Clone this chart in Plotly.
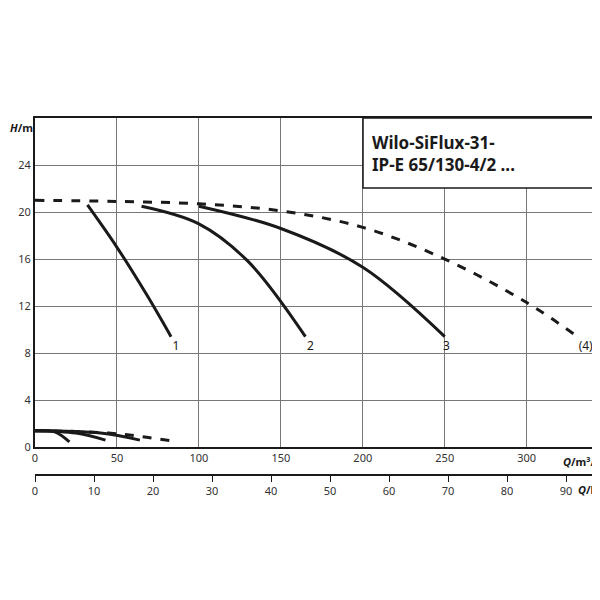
import plotly.graph_objects as go

q_max = [0, 50, 100, 150, 200, 250, 300, 331]
h_max = [21.0, 20.9, 20.7, 20.1, 18.7, 16.0, 12.3, 9.4]
q_1 = [32, 50, 68, 83]
h_1 = [20.6, 17.0, 13.0, 9.4]
q_2 = [65, 100, 130, 165]
h_2 = [20.5, 19.0, 15.8, 9.4]
q_3 = [100, 150, 200, 250]
h_3 = [20.5, 18.6, 15.3, 9.4]
q_p4 = [0, 20, 45, 65, 87]
p_p4 = [1.4, 1.35, 1.2, 0.9, 0.45]
q_p1 = [0, 12, 21]
p_p1 = [1.4, 1.3, 0.45]
q_p2 = [0, 25, 43]
p_p2 = [1.4, 1.2, 0.6]
q_p3 = [0, 40, 64]
p_p3 = [1.4, 1.2, 0.6]
labels = ["1", "2", "3", "(4)"]
label_q = [86, 168, 251, 336]
label_h = [8.5, 8.5, 8.5, 8.5]

fig = go.Figure()
blk = "#1a1a1a"
fig.add_trace(go.Scatter(x=q_max, y=h_max, mode="lines", line=dict(color=blk, width=3, dash="dash", shape="spline")))
for q, h in [(q_1, h_1), (q_2, h_2), (q_3, h_3)]:
    fig.add_trace(go.Scatter(x=q, y=h, mode="lines", line=dict(color=blk, width=3, shape="spline")))
fig.add_trace(go.Scatter(x=q_p4, y=p_p4, mode="lines", line=dict(color=blk, width=3, dash="dash", shape="spline")))
for q, h in [(q_p1, p_p1), (q_p2, p_p2), (q_p3, p_p3)]:
    fig.add_trace(go.Scatter(x=q, y=h, mode="lines", line=dict(color=blk, width=3, shape="spline")))
fig.add_trace(go.Scatter(x=label_q, y=label_h, mode="text", text=labels, textfont=dict(size=12, color=blk, family="Noto Sans")))
fig.add_trace(go.Scatter(x=[0], y=[0], xaxis="x2", mode="markers", marker=dict(opacity=0), hoverinfo="skip"))

fig.update_layout(
    width=600, height=600, showlegend=False, plot_bgcolor="white", paper_bgcolor="white",
    margin=dict(l=27, r=1, t=110, b=133),
    font=dict(family="Noto Sans", size=11, color="#333"),
    xaxis=dict(range=[0, 349], tickvals=[0, 50, 100, 150, 200, 250, 300], showgrid=True, gridcolor="#777", gridwidth=1,
               showline=True, linecolor=blk, linewidth=2, mirror=True, zeroline=False, ticks="", anchor="y",
               automargin=False),
    yaxis=dict(range=[0, 28], tickvals=[0, 4, 8, 12, 16, 20, 24], showgrid=True, gridcolor="#777", gridwidth=1,
               showline=True, linecolor=blk, linewidth=2, mirror=True, zeroline=False, domain=[0.078, 1], ticks="",
               automargin=False),
    xaxis2=dict(range=[0, 349 / 3.6], tickvals=[0, 10, 20, 30, 40, 50, 60, 70, 80, 90], anchor="free", position=0,
                overlaying="x", side="bottom", showline=True, linecolor=blk, linewidth=1.5, ticks="outside",
                ticklen=6, tickcolor=blk, showgrid=False, zeroline=False, automargin=False),
)
fig.add_shape(type="rect", xref="paper", yref="paper", x0=(355 - 27) / 572, x1=1, y0=(467 - 180) / 357, y1=1,
              line=dict(color=blk, width=1.5), fillcolor="white", layer="above")
fig.add_annotation(xref="paper", yref="paper", x=(362 - 27) / 572, y=(467 - 145) / 357, xanchor="left", yanchor="middle",
                   text="<b>Wilo‑SiFlux‑31‑<br>IP‑E 65/130‑4/2 ...</b>", showarrow=False, align="left",
                   font=dict(size=17, color=blk, family="Noto Sans"))
fig.add_annotation(xref="paper", yref="paper", x=-0.047, y=1.0, xanchor="left", yanchor="top", text="<b><i>H</i>/m</b>",
                   showarrow=False, font=dict(size=11, color=blk))
fig.add_annotation(xref="paper", yref="paper", x=0.995, y=(467 - 453) / 357, xanchor="right", yanchor="middle",
                   text="<b><i>Q</i>/m³/h</b>", showarrow=False, font=dict(size=11, color=blk), bgcolor="white")
fig.add_annotation(xref="paper", yref="paper", x=0.998, y=(467 - 481) / 357, xanchor="right", yanchor="middle",
                   text="<b><i>Q</i>/l/s</b>", showarrow=False, font=dict(size=11, color=blk), bgcolor="white")
fig.write_html("out.html")
